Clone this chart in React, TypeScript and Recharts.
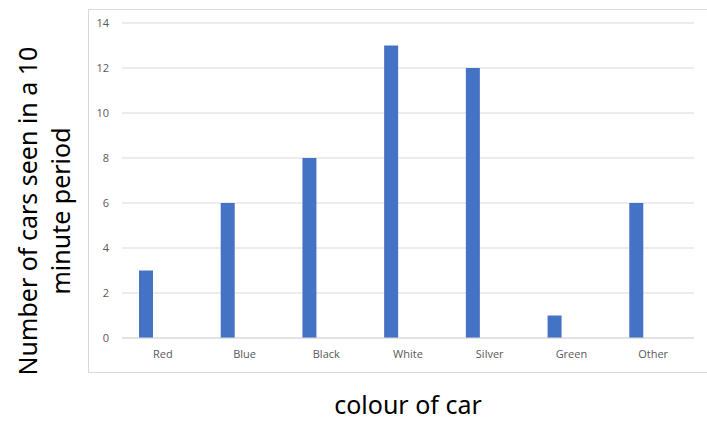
import { Bar, BarChart, CartesianGrid, Label, XAxis, YAxis } from "recharts";

const colours = ["Red", "Blue", "Black", "White", "Silver", "Green", "Other"];
const carCounts = [3, 6, 8, 13, 12, 1, 6];
const yTicks = [0, 2, 4, 6, 8, 10, 12, 14];

const data = colours.map((colour, i) => ({ colour, cars: carCounts[i] }));

const TICK_STYLE = { fontSize: 11, fill: "#595959", fontFamily: "Open Sans, sans-serif" };
const TITLE_FONT = "Noto Sans, sans-serif";

function YTitle() {
  const cy = 211;
  return (
    <g fontFamily={TITLE_FONT} fontSize={25} fill="#000">
      <text x={37} y={cy} transform={`rotate(-90 37 ${cy})`} textAnchor="middle">
        Number of cars seen in a 10
      </text>
      <text x={70} y={cy} transform={`rotate(-90 70 ${cy})`} textAnchor="middle">
        minute period
      </text>
    </g>
  );
}

export default function App() {
  return (
    <div style={{ position: "absolute", left: 0, top: 0, width: 707, height: 421, background: "#fff" }}>
      <div
        style={{
          position: "absolute",
          left: 88,
          top: 9,
          width: 640,
          height: 362,
          border: "1px solid #d9d9d9",
        }}
      />
      <BarChart
        width={707}
        height={421}
        data={data}
        margin={{ top: 23, right: 13, bottom: 0, left: 0 }}
        barGap={3}
        style={{ position: "absolute", left: 0, top: 0 }}
      >
        <CartesianGrid vertical={false} stroke="#d9d9d9" />
        <XAxis
          dataKey="colour"
          axisLine={{ stroke: "#d9d9d9" }}
          tickLine={false}
          tick={TICK_STYLE}
          tickMargin={6}
          height={83}
        >
          <Label
            value="colour of car"
            position="insideBottom"
            offset={7}
            style={{ fontFamily: TITLE_FONT, fontSize: 25, fill: "#000" }}
          />
        </XAxis>
        <YAxis
          domain={[0, 14]}
          ticks={yTicks}
          axisLine={false}
          tickLine={false}
          tick={TICK_STYLE}
          tickMargin={7}
          width={122}
        >
          <Label content={<YTitle />} />
        </YAxis>
        <Bar dataKey="cars" fill="#4472c4" barSize={14} isAnimationActive={false} />
        <Bar dataKey="s2" fill="#ed7d31" barSize={14} isAnimationActive={false} />
        <Bar dataKey="s3" fill="#a5a5a5" barSize={14} isAnimationActive={false} />
      </BarChart>
    </div>
  );
}
